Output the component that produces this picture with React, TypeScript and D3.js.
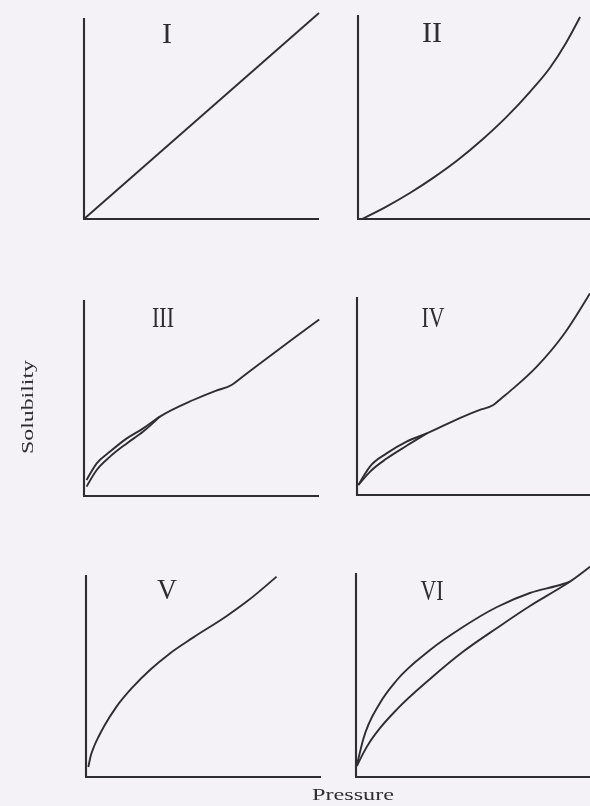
import React from "react";
import * as d3 from "d3";

type Pt = [number, number];

// Solubility vs pressure curves, in relative units (0–100 on both axes).
const curveI: Pt[] = [[0, 0], [100, 103]];

const curveII: Pt[] = [
  [1.7, 0], [11.9, 6.1], [22.1, 13], [32.3, 20.8], [42.6, 29.6], [52.8, 39.6],
  [63, 50.8], [73.2, 63.6], [81.7, 75.6], [88.5, 88], [94.5, 101],
];

const curveIIIUpper: Pt[] = [
  [1.1, 8], [5.4, 16.3], [11.1, 22.2], [18.2, 28.8], [25.2, 33.8], [32.3, 39.7],
  [46.5, 48], [56, 52.6], [62.8, 55.5], [66.5, 58.8], [74.9, 66.3], [89.1, 78.8],
  [100.1, 88.3],
];
const curveIIILower: Pt[] = [
  [1.1, 4.7], [5.4, 13], [11.1, 19.7], [18.2, 26.3], [25.2, 32.2], [32.3, 39.7],
];

const curveIVUpper: Pt[] = [
  [0.6, 5], [5.5, 14.2], [12.6, 20.8], [21.1, 26.7], [29.7, 30.8], [45.2, 39.2],
  [52, 42.4], [58, 45], [61.5, 48.4], [66.5, 53.3], [76.5, 64.2], [87.8, 80],
  [99.1, 100.8],
];
const curveIVLower: Pt[] = [
  [0.6, 5], [5.5, 11.6], [12.6, 18.2], [21.1, 24.6], [29.7, 30.8],
];

const curveV: Pt[] = [
  [1, 5], [2, 10.5], [3.5, 15.5], [5.5, 20.5], [8, 26], [13, 35.2], [20.1, 45.2],
  [27.2, 53.5], [35.7, 61.8], [45.7, 69.8], [59.9, 80.5], [68.4, 87.7], [81.1, 100.2],
];

const curveVIUpper: Pt[] = [
  [0.4, 6], [3, 18.5], [10.2, 37], [17.4, 48.5], [31.5, 63.5], [45.5, 75],
  [60, 85], [74, 92], [88.1, 96.5], [91, 97.7],
];
const curveVILower: Pt[] = [
  [0.4, 5.5], [3, 11.7], [6, 17.7], [10.2, 24.4], [17.4, 33.8], [31.5, 49],
  [45.5, 62.6], [60, 74.5], [74, 85.5], [88.1, 95.5], [91, 97.7], [99.6, 105.2],
];

const panelLabels = ["I", "II", "III", "IV", "V", "VI"];
const panelCurves: Pt[][][] = [
  [curveI],
  [curveII],
  [curveIIIUpper, curveIIILower],
  [curveIVUpper, curveIVLower],
  [curveV],
  [curveVIUpper, curveVILower],
];
const xTitle = "Pressure";
const yTitle = "Solubility";

// Layout: origin of each small plot, axis length, numeral placement.
const W = 590;
const H = 806;
const PLOT_W = 235;
const PLOT_H = 200;
const panels = [
  { x0: 84, y0: 219, yTop: 100.5, lx: 167, ly: 33, lw: 10 },
  { x0: 358, y0: 219, yTop: 102, lx: 432, ly: 32, lw: 20 },
  { x0: 84, y0: 496, yTop: 98, lx: 163, ly: 317, lw: 22 },
  { x0: 357, y0: 495, yTop: 99, lx: 433, ly: 317, lw: 23 },
  { x0: 86, y0: 777, yTop: 101, lx: 167, ly: 589, lw: 20 },
  { x0: 356, y0: 777, yTop: 102, lx: 432, ly: 590, lw: 23 },
];

const INK = "#2f2e33";
const SERIF = "'Liberation Serif', 'DejaVu Serif', serif";

export default function App() {
  return (
    <svg
      width={W}
      height={H}
      viewBox={`0 0 ${W} ${H}`}
      style={{ position: "absolute", left: 0, top: 0, display: "block" }}
    >
      <defs>
        <filter id="soft" x="-5%" y="-5%" width="110%" height="110%">
          <feGaussianBlur stdDeviation="0.35" />
        </filter>
      </defs>
      <rect width={W} height={H} fill="#f4f2f6" />
      <g filter="url(#soft)">
        {panels.map((p, i) => {
          const x = d3.scaleLinear().domain([0, 100]).range([p.x0, p.x0 + PLOT_W]);
          const y = d3.scaleLinear().domain([0, 100]).range([p.y0, p.y0 - PLOT_H]);
          const line = d3
            .line<Pt>()
            .x((d) => x(d[0]))
            .y((d) => y(d[1]))
            .curve(d3.curveMonotoneX);
          return (
            <g key={i}>
              <line x1={x(0)} y1={y(0)} x2={x(0)} y2={y(p.yTop)} stroke={INK} strokeWidth={2.1} />
              <line x1={x(0) - 1} y1={y(0)} x2={x(100)} y2={y(0)} stroke={INK} strokeWidth={2.1} />
              {panelCurves[i].map((c, j) => (
                <path key={j} d={line(c) || ""} fill="none" stroke={INK} strokeWidth={1.9} strokeLinejoin="round" />
              ))}
              <text
                x={p.lx}
                y={p.ly + 9.5}
                textAnchor="middle"
                fontFamily={SERIF}
                fontSize={29}
                fill={INK}
                textLength={p.lw}
                lengthAdjust="spacingAndGlyphs"
              >
                {panelLabels[i]}
              </text>
            </g>
          );
        })}
        <text
          x={312}
          y={800}
          fontFamily={SERIF}
          fontSize={17}
          fill={INK}
          textLength={82}
          lengthAdjust="spacingAndGlyphs"
        >
          {xTitle}
        </text>
        <text
          transform="translate(33,407) rotate(-90)"
          textAnchor="middle"
          fontFamily={SERIF}
          fontSize={17}
          fill={INK}
          textLength={94}
          lengthAdjust="spacingAndGlyphs"
        >
          {yTitle}
        </text>
      </g>
    </svg>
  );
}
